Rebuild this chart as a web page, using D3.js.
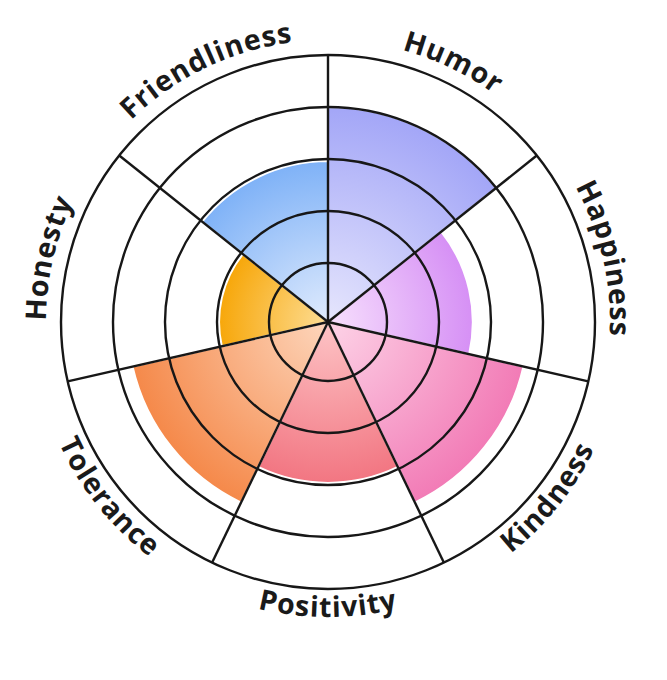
<!DOCTYPE html>
<html>
<head>
<meta charset="utf-8">
<script src="https://cdn.jsdelivr.net/npm/d3@7"></script>
<style>
  html, body { margin: 0; padding: 0; background: #fff; }
  svg { display: block; }
</style>
</head>
<body>
<svg id="chart" width="667" height="680"></svg>
<script>
const categories = ['Humor', 'Happiness', 'Kindness', 'Positivity', 'Tolerance', 'Honesty', 'Friendliness'];
const values = [4, 2.65, 3.72, 2.96, 3.72, 1.96, 2.96];
const gridTicks = [1, 2, 3, 4, 5];
const edgeColors = ['#a3a6f7', '#d690f5', '#f27bb6', '#f27682', '#f5894a', '#f7a70a', '#7fb2f7'];
const centerColors = ['#e6e6fd', '#f7e0fd', '#fdd3e7', '#fdc4c6', '#fdd6bc', '#fddd94', '#e0ebfd'];

const cx = 328, cy = 322;
const svg = d3.select('#chart');
const r = d3.scaleLinear().domain([1, 5]).range([59, 267]);
const step = 2 * Math.PI / categories.length;

const data = categories.map((name, i) => ({
  name, value: values[i], i,
  start: i * step, end: (i + 1) * step, mid: (i + 0.5) * step
}));

const defs = svg.append('defs');
defs.selectAll('radialGradient')
  .data(data)
  .join('radialGradient')
    .attr('id', d => 'grad' + d.i)
    .attr('gradientUnits', 'userSpaceOnUse')
    .attr('cx', 0).attr('cy', 0)
    .attr('r', d => r(d.value))
  .selectAll('stop')
  .data(d => [[0, centerColors[d.i]], [1, edgeColors[d.i]]])
  .join('stop')
    .attr('offset', s => s[0])
    .attr('stop-color', s => s[1]);

const g = svg.append('g').attr('transform', `translate(${cx},${cy})`);

const arc = d3.arc()
  .innerRadius(0)
  .outerRadius(d => r(d.value))
  .startAngle(d => d.start)
  .endAngle(d => d.end);

g.selectAll('path.wedge')
  .data(data)
  .join('path')
    .attr('class', 'wedge')
    .attr('d', arc)
    .attr('fill', d => `url(#grad${d.i})`)
    .attr('stroke', '#fff')
    .attr('stroke-width', 2);

// grid rings and spokes
g.selectAll('circle.ring')
  .data(gridTicks)
  .join('circle')
    .attr('class', 'ring')
    .attr('r', d => r(d))
    .attr('fill', 'none')
    .attr('stroke', '#171717')
    .attr('stroke-width', 2.4);

const rMax = r(gridTicks[gridTicks.length - 1]);
g.selectAll('line.spoke')
  .data(data)
  .join('line')
    .attr('class', 'spoke')
    .attr('x1', 0).attr('y1', 0)
    .attr('x2', d => rMax * Math.sin(d.start))
    .attr('y2', d => -rMax * Math.cos(d.start))
    .attr('stroke', '#171717')
    .attr('stroke-width', 2.4);

// curved labels: top half runs clockwise, bottom half counter-clockwise so text stays upright
const pt = (rad, a) => [rad * Math.sin(a), -rad * Math.cos(a)];
const half = 1.0;
defs.selectAll('path.lblpath')
  .data(data)
  .join('path')
    .attr('class', 'lblpath')
    .attr('id', d => 'lbl' + d.i)
    .attr('d', d => {
      const bottom = Math.cos(d.mid) < 0;
      if (!bottom) {
        const R = rMax + 15;
        const [x0, y0] = pt(R, d.mid - half), [x1, y1] = pt(R, d.mid + half);
        return `M${x0},${y0}A${R},${R} 0 0 1 ${x1},${y1}`;
      }
      const R = rMax + 28;
      const [x0, y0] = pt(R, d.mid + half), [x1, y1] = pt(R, d.mid - half);
      return `M${x0},${y0}A${R},${R} 0 0 0 ${x1},${y1}`;
    });

g.selectAll('text.label')
  .data(data)
  .join('text')
    .attr('class', 'label')
    .attr('font-family', '"Open Sans", "Noto Sans", sans-serif')
    .attr('font-weight', 700)
    .attr('font-size', 28.5)
    .attr('letter-spacing', 0.9)
    .attr('fill', '#1a1a1a')
  .append('textPath')
    .attr('href', d => '#lbl' + d.i)
    .attr('startOffset', '50%')
    .attr('text-anchor', 'middle')
    .text(d => d.name);
</script>
</body>
</html>
